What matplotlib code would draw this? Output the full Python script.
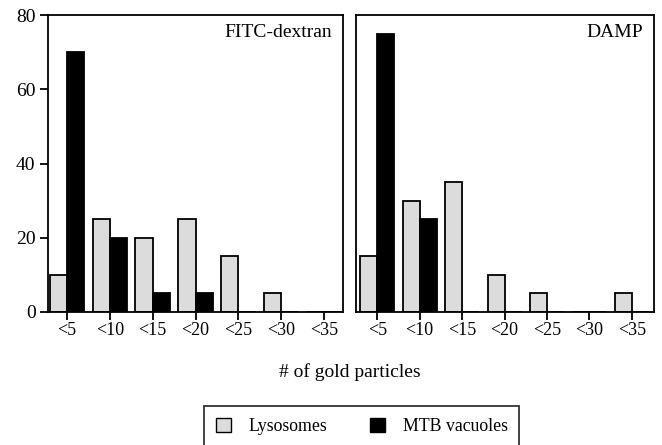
import matplotlib.pyplot as plt
from matplotlib.patches import Patch

plt.rcParams['font.family'] = ['Liberation Serif', 'DejaVu Serif']

categories = ['<5', '<10', '<15', '<20', '<25', '<30', '<35']
fitc_lyso = [10, 25, 20, 25, 15, 5, 0]
fitc_mtb = [70, 20, 5, 5, 0, 0, 0]
damp_lyso = [15, 30, 35, 10, 5, 0, 5]
damp_mtb = [75, 25, 0, 0, 0, 0, 0]

lyso_color = '#dcdcdc'
w = 0.4

fig = plt.figure(figsize=(6.62, 4.45), dpi=100)
ax1 = fig.add_axes([48/662, 133/445, 295/662, 297/445])
ax2 = fig.add_axes([356/662, 133/445, 298/662, 297/445])

panels = [(ax1, fitc_lyso, fitc_mtb, 'FITC-dextran', (-0.44, 6.44)),
          (ax2, damp_lyso, damp_mtb, 'DAMP', (-0.5, 6.52))]

x = list(range(len(categories)))
for ax, lyso, mtb, title, xl in panels:
    ax.bar(x, lyso, width=-w, align='edge', color=lyso_color,
           edgecolor='black', linewidth=1.3)
    ax.bar(x, mtb, width=w, align='edge', color='black',
           edgecolor='black', linewidth=1.3)
    ax.set_xlim(*xl)
    ax.set_ylim(0, 80)
    ax.set_xticks(x)
    ax.set_xticklabels(categories, fontsize=13)
    ax.tick_params(axis='x', length=6, width=1.3, direction='out', pad=1)
    for s in ax.spines.values():
        s.set_linewidth(1.3)
    ax.text(0.962, 0.94, title, transform=ax.transAxes, ha='right', va='center',
            fontsize=14)

ax1.set_yticks([0, 20, 40, 60, 80])
ax1.tick_params(axis='y', labelsize=14, length=6, width=1.3, pad=3)
ax2.set_yticks([])

fig.text(350/662, 1 - 372/445, '# of gold particles', ha='center', va='center',
         fontsize=14)

handles = [Patch(facecolor=lyso_color, edgecolor='black', linewidth=1.0, label='Lysosomes'),
           Patch(facecolor='black', edgecolor='black', label='MTB vacuoles')]
leg = fig.legend(handles=handles, loc='upper left',
                 bbox_to_anchor=(204/662, 1 - 406/445), ncol=2, fontsize=12.8,
                 frameon=True, fancybox=False, edgecolor='black',
                 handlelength=0.85, handleheight=0.85, columnspacing=2.4,
                 handletextpad=1.0, borderpad=0.65, borderaxespad=0)
leg.get_frame().set_linewidth(1.3)

fig.savefig('out.png', dpi=100)
